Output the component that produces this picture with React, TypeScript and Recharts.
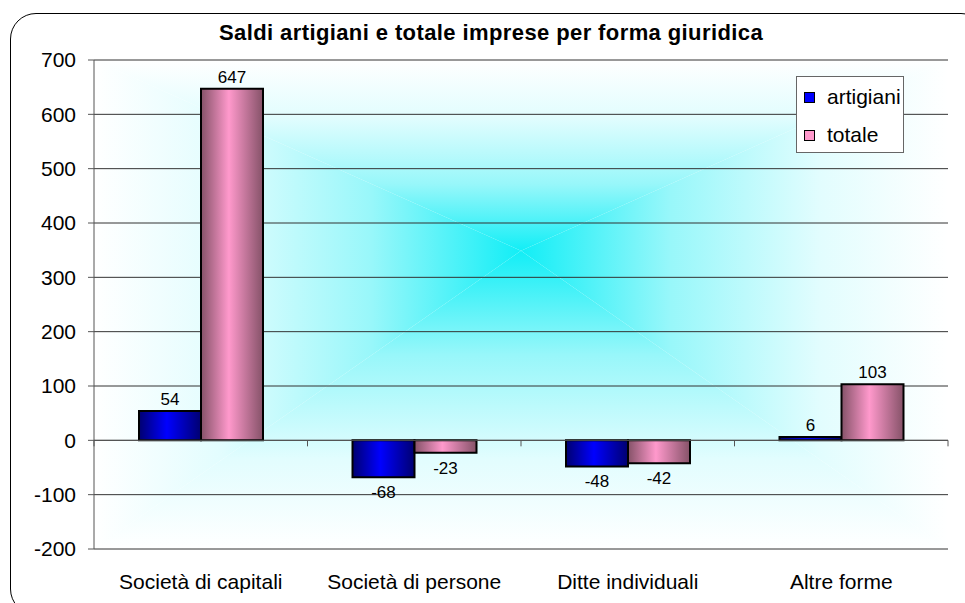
import { BarChart, Bar, XAxis, YAxis, CartesianGrid, LabelList, ReferenceLine } from "recharts";

const categories = ["Società di capitali", "Società di persone", "Ditte individuali", "Altre forme"];
const artigiani = [54, -68, -48, 6];
const totale = [647, -23, -42, 103];
const yTicks = [-200, -100, 0, 100, 200, 300, 400, 500, 600, 700];

const data = categories.map((cat, i) => ({ cat, artigiani: artigiani[i], totale: totale[i] }));

const series = [
  { key: "artigiani", color: "#0000FF" },
  { key: "totale", color: "#FF99CC" },
];
const font = "'Liberation Sans', Arial, sans-serif";

function ValueLabel(props: any) {
  const { x, y, width, height, value } = props;
  const top = Math.min(y, y + height);
  const bottom = Math.max(y, y + height);
  const ty = value >= 0 ? top - 6 : bottom + 21;
  return (
    <text x={x + width / 2} y={ty} textAnchor="middle" fontSize={17} fontFamily={font} fill="#000">
      {value}
    </text>
  );
}

function ZeroLine(props: any) {
  const { x1, y1, x2, y2 } = props;
  const step = (x2 - x1) / categories.length;
  return (
    <g>
      <line x1={x1} y1={y1} x2={x2} y2={y2} stroke="#555" strokeWidth={1} />
      {categories.concat([""]).map((_, i) => (
        <line key={i} x1={x1 + i * step} x2={x1 + i * step} y1={y1} y2={y1 + 6} stroke="#555" />
      ))}
    </g>
  );
}

function LegendBox() {
  return (
    <div
      style={{
        position: "absolute",
        left: 796,
        top: 76,
        width: 108,
        height: 77,
        boxSizing: "border-box",
        border: "1px solid #666",
        background: "#fff",
        fontFamily: font,
        fontSize: 21,
        paddingTop: 1,
      }}
    >
      {series.map((s) => (
        <div key={s.key} style={{ display: "flex", alignItems: "center", height: 38 }}>
          <span
            style={{
              display: "inline-block",
              width: 9,
              height: 9,
              marginLeft: 7,
              marginRight: 12,
              border: "1px solid #000",
              background: s.color,
            }}
          />
          <span>{s.key}</span>
        </div>
      ))}
    </div>
  );
}

const stops = [
  { o: 0, c: "#FFFFFF" },
  { o: 0.3, c: "#E2FDFE" },
  { o: 0.65, c: "#98F7FA" },
  { o: 1, c: "#12EEF6" },
];

function Grad({ id, x1, y1, x2, y2 }: any) {
  return (
    <linearGradient id={id} x1={x1} y1={y1} x2={x2} y2={y2}>
      {stops.map((s) => (
        <stop key={s.o} offset={s.o} stopColor={s.c} />
      ))}
    </linearGradient>
  );
}

export default function App() {
  return (
    <div style={{ position: "absolute", left: 0, top: 0, width: 965, height: 603, overflow: "hidden", background: "#fff" }}>
      <div
        style={{
          position: "absolute",
          left: 10,
          top: 13,
          width: 975,
          height: 600,
          border: "1.5px solid #000",
          borderRadius: 26,
          boxShadow: "3px 3px 0 #000",
        }}
      />
      <div
        style={{
          position: "absolute",
          top: 20,
          left: 0,
          width: 982,
          textAlign: "center",
          fontFamily: font,
          fontWeight: "bold",
          fontSize: 22,
          letterSpacing: 0.4,
        }}
      >
        Saldi artigiani e totale imprese per forma giuridica
      </div>
      <div style={{ position: "absolute", left: 0, top: 0 }}>
        <BarChart
          width={965}
          height={603}
          data={data}
          margin={{ top: 60, right: 17, bottom: 24, left: 34 }}
          barGap={0}
          barSize={62}
        >
          <defs>
            <Grad id="gTop" x1="0" y1="0" x2="0" y2="1" />
            <Grad id="gBottom" x1="0" y1="1" x2="0" y2="0" />
            <Grad id="gLeft" x1="0" y1="0" x2="1" y2="0" />
            <Grad id="gRight" x1="1" y1="0" x2="0" y2="0" />
            <pattern id="bgPattern" patternUnits="objectBoundingBox" patternContentUnits="objectBoundingBox" width="1" height="1">
              <polygon points="0,0 1,0 0.5,0.39" fill="url(#gTop)" />
              <polygon points="0,1 1,1 0.5,0.39" fill="url(#gBottom)" />
              <polygon points="0,0 0,1 0.5,0.39" fill="url(#gLeft)" />
              <polygon points="1,0 1,1 0.5,0.39" fill="url(#gRight)" />
            </pattern>
            <linearGradient id="blueBar" x1="0" y1="0" x2="1" y2="0">
              <stop offset="0" stopColor="#000070" />
              <stop offset="0.45" stopColor="#0000FF" />
              <stop offset="1" stopColor="#000070" />
            </linearGradient>
            <linearGradient id="pinkBar" x1="0" y1="0" x2="1" y2="0">
              <stop offset="0" stopColor="#855268" />
              <stop offset="0.45" stopColor="#FF99CC" />
              <stop offset="1" stopColor="#855268" />
            </linearGradient>
          </defs>
          <CartesianGrid vertical={false} stroke="#333" fill="url(#bgPattern)" fillOpacity={1} />
          <XAxis
            dataKey="cat"
            height={30}
            axisLine={false}
            tickLine={false}
            tickSize={0}
            tickMargin={25}
            interval={0}
            tick={{ fontSize: 21, fontFamily: font, fill: "#000" }}
          />
          <YAxis
            domain={[-200, 700]}
            ticks={yTicks}
            interval={0}
            width={60}
            tickSize={6}
            tickMargin={12}
            axisLine={{ stroke: "#555" }}
            tickLine={{ stroke: "#555" }}
            tick={{ fontSize: 21, fontFamily: font, fill: "#000" }}
          />
          <YAxis
            yAxisId="r"
            orientation="right"
            domain={[-200, 700]}
            width={0}
            tick={false}
            tickLine={false}
            axisLine={{ stroke: "#888" }}
          />
          <ReferenceLine y={0} shape={ZeroLine} />
          <Bar dataKey="artigiani" name="artigiani" fill="url(#blueBar)" stroke="#000" strokeWidth={2} isAnimationActive={false}>
            <LabelList dataKey="artigiani" content={ValueLabel} />
          </Bar>
          <Bar dataKey="totale" name="totale" fill="url(#pinkBar)" stroke="#000" strokeWidth={2} isAnimationActive={false}>
            <LabelList dataKey="totale" content={ValueLabel} />
          </Bar>
        </BarChart>
      </div>
      <LegendBox />
    </div>
  );
}
